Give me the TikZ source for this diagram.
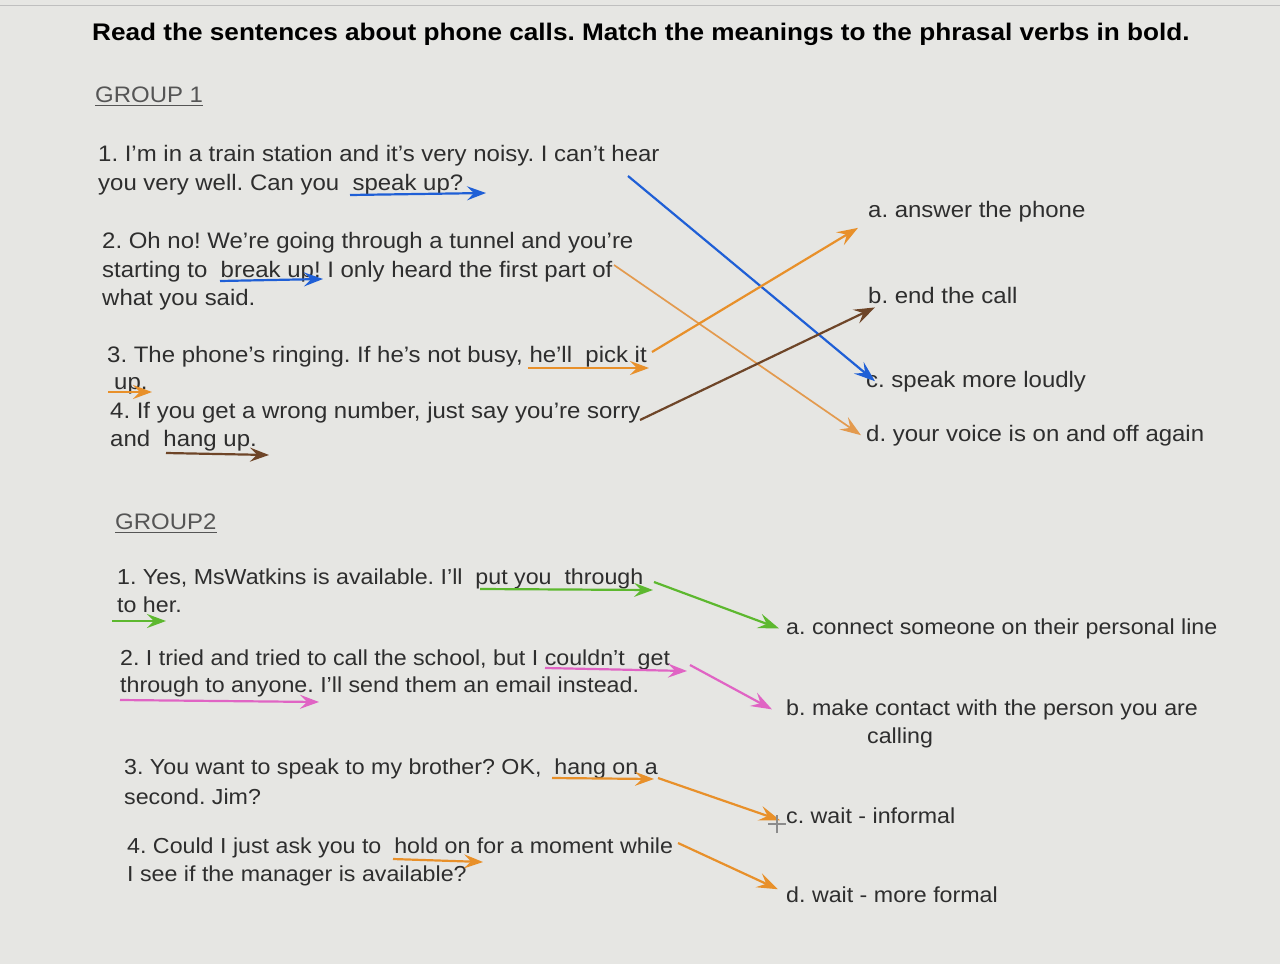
\documentclass[tikz,border=0pt]{standalone}
\usepackage{fontspec}
\setmainfont{Liberation Sans}
\newfontfamily\bodyfont[FakeStretch=1.07,Ligatures=TeX]{Liberation Sans}
\newfontfamily\titlefont[FakeStretch=1.09,Ligatures=TeX]{Liberation Sans}
\usetikzlibrary{arrows.meta}
\definecolor{bg}{HTML}{E6E6E3}
\definecolor{ink}{HTML}{2E2E2E}
\definecolor{cblue}{HTML}{1F5FD6}
\definecolor{corange}{HTML}{E8902A}
\definecolor{clorange}{HTML}{E39A4E}
\definecolor{cbrown}{HTML}{6E4528}
\definecolor{cgreen}{HTML}{5DB82F}
\definecolor{cpink}{HTML}{E064C4}
\definecolor{cgrey}{HTML}{555555}
\tikzset{
  txt/.style={anchor=base west, inner sep=0pt, text=ink, font=\bodyfont\fontsize{22.4}{26}\selectfont},
  txtb/.style={anchor=base west, inner sep=0pt, text=ink, font=\bodyfont\fontsize{21.7}{26}\selectfont},
  ttl/.style={anchor=base west, inner sep=0pt, text=black, font=\titlefont\fontsize{24}{28}\selectfont\bfseries},
  grp/.style={anchor=base west, inner sep=0pt, text=cgrey, font=\bodyfont\fontsize{22.4}{26}\selectfont},
  link/.style={line width=2.2pt, -{Stealth[length=21pt,width=15pt,inset=8pt]}},
  uline/.style={line width=2.2pt, -{Stealth[length=19pt,width=14pt,inset=7pt]}},
}
\begin{document}
\frenchspacing
\begin{tikzpicture}[x=1pt,y=-1pt]
\fill[bg] (0,0) rectangle (1280,964);
\useasboundingbox (0,0) rectangle (1280,964);
\draw[line width=0.6pt, black!25] (0,5) -- (1280,5);

% title
\node[ttl] (t) at (92,40) {Read the sentences about phone calls. Match the meanings to the phrasal verbs in bold.};

% group 1
\node[grp] (g1) at (95,102) {GROUP 1};
\draw[cgrey, line width=0.9pt] ([yshift=-3]g1.base west) -- ([yshift=-3]g1.base east);

\node[txt] (s1a) at (98,161) {1. I'm in a train station and it's very noisy. I can't hear};
\node[txt] (s1b) at (98,190) {you very well. Can you \ speak up?};
\node[txt] (s2a) at (102,248) {2. Oh no! We're going through a tunnel and you're};
\node[txt] (s2b) at (102,277) {starting to \ break up! I only heard the first part of};
\node[txt] (s2c) at (102,305) {what you said.};
\node[txt] (s3a) at (107,362) {3. The phone's ringing. If he's not busy, he'll \ pick it};
\node[txt] (s3b) at (114,389) {up.};
\node[txt] (s4a) at (110,418) {4. If you get a wrong number, just say you're sorry};
\node[txt] (s4b) at (110,446) {and \ hang up.};

\node[txt] (ma) at (868,217) {a. answer the phone};
\node[txt] (mb) at (868,303) {b. end the call};
\node[txt] (mc) at (866,387) {c. speak more loudly};
\node[txt] (md) at (866,441) {d. your voice is on and off again};

% underline arrows group 1
\coordinate (u1s) at (350,195); \coordinate (u1e) at (486,193);
\coordinate (u2s) at (220,281); \coordinate (u2e) at (323,279);
\coordinate (u3s) at (528,368); \coordinate (u3e) at (649,368);
\coordinate (u3bs) at (108,392); \coordinate (u3be) at (152,392);
\coordinate (u4s) at (166,453); \coordinate (u4e) at (269,455);
\draw[uline, cblue] (u1s) -- (u1e);
\draw[uline, cblue] (u2s) -- (u2e);
\draw[uline, corange] (u3s) -- (u3e);
\draw[uline, corange] (u3bs) -- (u3be);
\draw[uline, cbrown] (u4s) -- (u4e);

% connectors group 1
\coordinate (c1) at (628,176);
\coordinate (c2) at (614,265);
\coordinate (c3) at (652,352);
\coordinate (c4) at (640,420);
\draw[link, cblue] (c1) -- ([xshift=9]mc.west);
\draw[link, clorange, line width=1.7pt] (c2) -- ([xshift=-5]md.west);
\draw[link, corange] (c3) -- ([shift={(-10,6)}]ma.south west);
\draw[link, cbrown] (c4) -- ([shift={(7,4)}]mb.south west);

% group 2
\node[grp] (g2) at (115,529) {GROUP2};
\draw[cgrey, line width=0.9pt] ([yshift=-3]g2.base west) -- ([yshift=-3]g2.base east);

\node[txtb] (r1a) at (117,584) {1. Yes, MsWatkins is available. I'll \ put you \ through};
\node[txtb] (r1b) at (117,612) {to her.};
\node[txtb] (r2a) at (120,665) {2. I tried and tried to call the school, but I couldn't \ get};
\node[txtb] (r2b) at (120,692) {through to anyone. I'll send them an email instead.};
\node[txtb] (r3a) at (124,774) {3. You want to speak to my brother? OK, \ hang on a};
\node[txtb] (r3b) at (124,804) {second. Jim?};
\node[txtb] (r4a) at (127,853) {4. Could I just ask you to \ hold on for a moment while};
\node[txtb] (r4b) at (127,881) {I see if the manager is available?};

\node[txtb] (na) at (786,634) {a. connect someone on their personal line};
\node[txtb] (nb) at (786,715) {b. make contact with the person you are};
\node[txtb] (nb2) at (867,743) {calling};
\node[txtb] (nc) at (786,823) {c. wait - informal};
\node[txtb] (nd) at (786,902) {d. wait - more formal};

% underline arrows group 2
\coordinate (v1s) at (480,589); \coordinate (v1e) at (653,590);
\coordinate (v1bs) at (112,621); \coordinate (v1be) at (166,621);
\coordinate (v2s) at (545,668); \coordinate (v2e) at (687,671);
\coordinate (v2bs) at (120,700); \coordinate (v2be) at (319,702);
\coordinate (v3s) at (552,778); \coordinate (v3e) at (654,779);
\coordinate (v4s) at (393,859); \coordinate (v4e) at (483,862);
\draw[uline, cgreen] (v1s) -- (v1e);
\draw[uline, cgreen] (v1bs) -- (v1be);
\draw[uline, cpink] (v2s) -- (v2e);
\draw[uline, cpink] (v2bs) -- (v2be);
\draw[uline, corange] (v3s) -- (v3e);
\draw[uline, corange] (v4s) -- (v4e);

% connectors group 2
\coordinate (d1) at (654,582);
\coordinate (d2) at (690,665);
\coordinate (d3) at (658,778);
\coordinate (d4) at (678,843);
\draw[link, cgreen] (d1) -- ([xshift=-7]na.west);
\draw[link, cpink] (d2) -- ([xshift=-14]nb.west);
\draw[link, corange] (d3) -- ([shift={(-6,5)}]nc.west);
\draw[link, corange] (d4) -- ([shift={(-8,-5)}]nd.west);

% mouse cursor
\coordinate (cur) at (777,824);
\draw[black!45, line width=2pt] ([xshift=-9]cur) -- ([xshift=9]cur);
\draw[black!45, line width=2pt] ([yshift=-9]cur) -- ([yshift=9]cur);
\end{tikzpicture}
\end{document}
